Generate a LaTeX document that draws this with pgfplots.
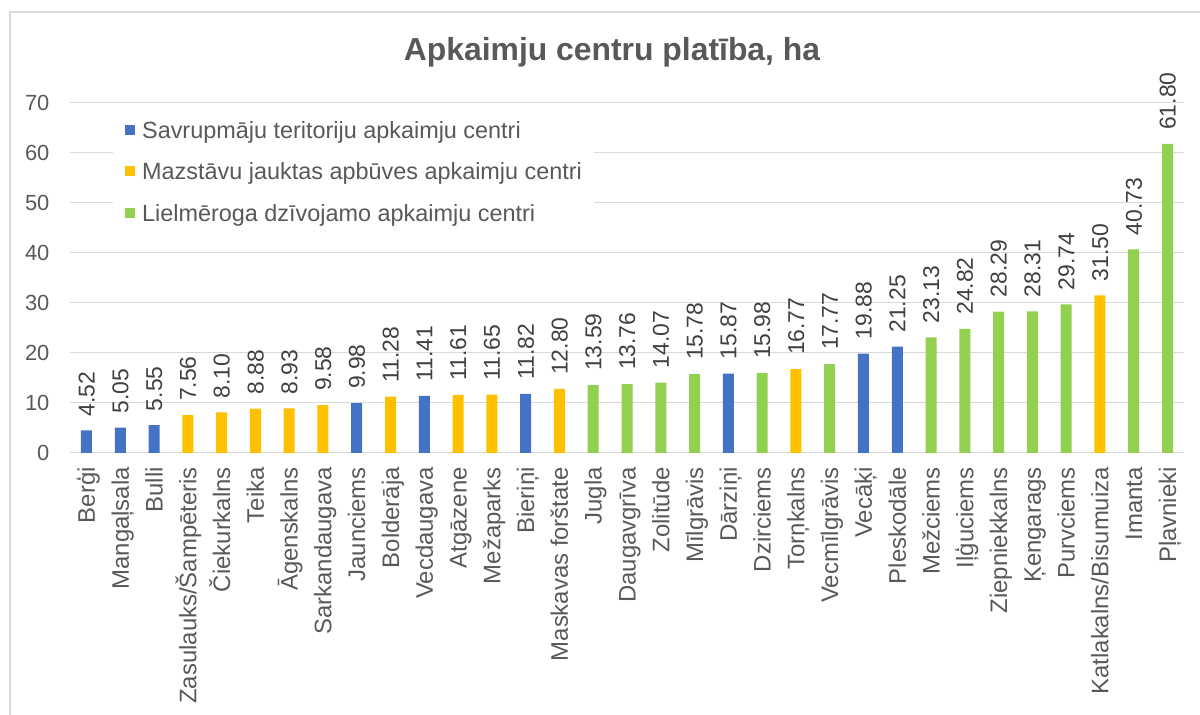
\documentclass[border=0pt]{standalone}
\usepackage{fontspec}
\setmainfont{Liberation Sans}
\usepackage{pgfplots}
\pgfplotsset{compat=1.18}
\pgfplotsset{/pgf/number format/assume math mode=true}

\definecolor{cblue}{HTML}{4472C4}
\definecolor{corange}{HTML}{FFC000}
\definecolor{cgreen}{HTML}{92D050}
\definecolor{txtgray}{HTML}{595959}
\definecolor{lblgray}{HTML}{404040}
\definecolor{gridgray}{HTML}{D9D9D9}

\begin{document}
\begin{tikzpicture}[x=1bp,y=1bp]
\useasboundingbox (0,0) rectangle (1200,715);
% frame of the chart area
\draw[gridgray, line width=1.5bp] (10,0) -- (10,703) -- (1200,703);

\begin{axis}[
  at={(69.6bp,262bp)}, anchor=south west,
  scale only axis, width=1114.8bp, height=350bp,
  xmin=-0.5, xmax=32.5, ymin=0, ymax=70,
  clip=false,
  ybar,
  every axis plot/.append style={bar shift=0pt, bar width=11bp, draw=none},
  axis line style={draw=none},
  major tick length=0pt,
  ytick={0,10,...,70},
  ymajorgrids, major grid style={gridgray, line width=1bp},
  xtick={0,...,32},
  xticklabels={Berģi, Mangaļsala, Bulli, Zasulauks/Šampēteris, Čiekurkalns,
    Teika, Āgenskalns, Sarkandaugava, Jaunciems, Bolderāja, Vecdaugava,
    Atgāzene, Mežaparks, Bieriņi, Maskavas forštate, Jugla, Daugavgrīva,
    Zolitūde, Mīlgrāvis, Dārziņi, Dzirciems, Torņkalns, Vecmīlgrāvis,
    Vecāķi, Pleskodāle, Mežciems, Iļģuciems, Ziepniekkalns, Ķengarags,
    Purvciems, Katlakalns/Bisumuiza, Imanta, Pļavnieki},
  yticklabel style={anchor=east, inner sep=0pt, xshift=-20bp,
    font=\fontsize{22}{26}\selectfont, text=txtgray},
  xticklabel style={rotate=90, anchor=east, inner xsep=14bp, inner ysep=0pt,
    text height=22bp, text depth=5bp,
    font=\fontsize{24}{28}\selectfont, text=txtgray},
  nodes near coords={\pgfmathprintnumber[fixed,fixed zerofill,precision=2]{\pgfplotspointmeta}},
  every node near coord/.append style={rotate=90, anchor=west, inner xsep=14bp,
    inner ysep=0pt, text height=21bp, text depth=4.8bp,
    font=\fontsize{23}{27}\selectfont, text=lblgray},
  legend style={at={(0.0389,0.974)}, anchor=north west, draw=none, fill=white,
    font=\fontsize{23.5}{28}\selectfont, text=txtgray,
    inner xsep=12bp, inner ysep=4bp, row sep=15bp, column sep=7bp,
    nodes={inner sep=0pt, text height=21.8bp, text depth=5bp}},
  legend cell align=left,
  legend image code/.code={\fill[#1] (0bp,-5bp) rectangle (10bp,5bp);},
]
\addplot[fill=cblue] coordinates {
  (0,4.52)(1,5.05)(2,5.55)(8,9.98)(10,11.41)(13,11.82)(19,15.87)(23,19.88)(24,21.25)};
\addlegendentry{Savrupmāju teritoriju apkaimju centri}
\addplot[fill=corange] coordinates {
  (3,7.56)(4,8.10)(5,8.88)(6,8.93)(7,9.58)(9,11.28)(11,11.61)(12,11.65)
  (14,12.80)(21,16.77)(30,31.50)};
\addlegendentry{Mazstāvu jauktas apbūves apkaimju centri}
\addplot[fill=cgreen] coordinates {
  (15,13.59)(16,13.76)(17,14.07)(18,15.78)(20,15.98)(22,17.77)(25,23.13)
  (26,24.82)(27,28.29)(28,28.31)(29,29.74)(31,40.73)(32,61.80)};
\addlegendentry{Lielmēroga dzīvojamo apkaimju centri}
\end{axis}

\node[anchor=base, font=\fontsize{32}{38}\selectfont\bfseries, text=txtgray]
  at (612,654) {Apkaimju centru platība, ha};
\end{tikzpicture}
\end{document}
